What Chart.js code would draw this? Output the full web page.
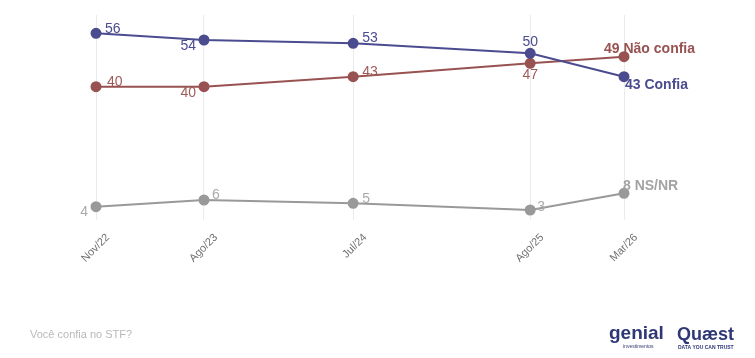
<!DOCTYPE html>
<html><head><meta charset="utf-8">
<script src="https://cdn.jsdelivr.net/npm/chart.js@4/dist/chart.umd.min.js"></script>
<style>html,body{margin:0;padding:0;background:#fff}#w{width:755px;height:358px;position:relative}</style>
</head><body><div id="w"><canvas id="c"></canvas></div>
<script>
const tickLabels = ['Nov/22','Ago/23','Jul/24','Ago/25','Mar/26'];
const surveyDates = ['2022-11-30','2023-08-01','2024-07-03','2025-08-07','2026-03-07'];
const seriesNames = ['Confia','Não confia','NS/NR'];
const confia = [56,54,53,50,43];
const naoConfia = [40,40,43,47,49];
const nsnr = [4,6,5,3,8];
const footnote = 'Você confia no STF?';

const dayNums = surveyDates.map(d => Date.parse(d + 'T00:00:00Z') / 86400000);
const toPts = arr => arr.map((v, i) => ({x: dayNums[i], y: v}));

const lineColors = ['#4b4b8f', '#985252', '#999999'];
const labelColors = ['#4b4b8f', '#a05a5a', '#ababab'];
// per-series, per-point label placement: [dx, dy, align]
const placements = [
  [[9,-4,'left'],[-8,6,'right'],[9,-5,'left'],[0,-11,'center'],[1,8,'left']],
  [[11,-5,'left'],[-8,6,'right'],[9,-5,'left'],[0,12,'center'],[-20,-8,'left']],
  [[-8,5,'right'],[8,-5,'left'],[9,-4,'left'],[7,-3,'left'],[-1,-7,'left']]
];

const labelPlugin = {
  id: 'vlabels',
  afterDatasetsDraw(chart) {
    const ctx = chart.ctx;
    ctx.save();
    ctx.textBaseline = 'middle';
    chart.data.datasets.forEach((ds, si) => {
      const meta = chart.getDatasetMeta(si);
      meta.data.forEach((pt, i) => {
        const p = placements[si][i];
        const last = i === meta.data.length - 1;
        const txt = last ? ds.data[i].y + ' ' + seriesNames[si] : String(ds.data[i].y);
        ctx.font = (last ? 'bold ' : '') + '14px "Liberation Sans", Arial, sans-serif';
        ctx.fillStyle = last ? lineColors[si] : labelColors[si];
        if (last && si === 2) ctx.fillStyle = '#a3a3a3';
        ctx.textAlign = p[2];
        ctx.fillText(txt, pt.x + p[0], pt.y + p[1]);
      });
    });
    ctx.restore();
  }
};

const footerPlugin = {
  id: 'footer',
  afterDraw(chart) {
    const ctx = chart.ctx;
    ctx.save();
    ctx.textBaseline = 'middle';
    ctx.textAlign = 'left';
    ctx.fillStyle = '#b9b9b9';
    ctx.font = '11px "Liberation Sans", Arial, sans-serif';
    ctx.fillText(footnote, 30, 335);
    // logos as text
    ctx.fillStyle = '#2f3877';
    ctx.font = 'bold 19px "Liberation Sans", Arial, sans-serif';
    ctx.fillText('genial', 609, 334);
    ctx.font = '5px "Liberation Sans", Arial, sans-serif';
    ctx.fillText('investimentos', 623, 347);
    ctx.font = 'bold 18px "Liberation Sans", Arial, sans-serif';
    ctx.fillText('Quæst', 677, 335);
    ctx.font = 'bold 5px "Liberation Sans", Arial, sans-serif';
    ctx.fillText('DATA YOU CAN TRUST', 678, 348);
    ctx.restore();
  }
};

const mk = (data, si) => ({
  label: seriesNames[si],
  data: toPts(data),
  borderColor: lineColors[si],
  backgroundColor: lineColors[si],
  borderWidth: 2,
  pointRadius: 4.5,
  pointHoverRadius: 4.5,
  tension: 0,
  clip: false
});

new Chart(document.getElementById('c'), {
  type: 'line',
  data: { datasets: [mk(confia,0), mk(naoConfia,1), mk(nsnr,2)] },
  options: {
    responsive: true,
    maintainAspectRatio: false,
    animation: false,
    layout: { padding: { left: 96, right: 131, top: 15, bottom: 88 } },
    plugins: { legend: { display: false }, tooltip: { enabled: false } },
    scales: {
      x: {
        type: 'linear',
        min: dayNums[0],
        max: dayNums[dayNums.length - 1],
        afterBuildTicks: s => { s.ticks = dayNums.map(v => ({ value: v })); },
        afterFit: s => { s.height = 50; },
        border: { display: false },
        grid: { color: '#ebebeb', lineWidth: 1, drawTicks: false },
        ticks: {
          autoSkip: false,
          maxRotation: 45, minRotation: 45,
          padding: 11,
          labelOffset: 12,
          color: '#707070',
          font: { family: '"Liberation Sans", Arial, sans-serif', size: 11 },
          callback: (v, i) => tickLabels[i]
        }
      },
      y: {
        display: false,
        min: 0,
        max: 61.5
      }
    }
  },
  plugins: [labelPlugin, footerPlugin]
});
</script></body></html>
